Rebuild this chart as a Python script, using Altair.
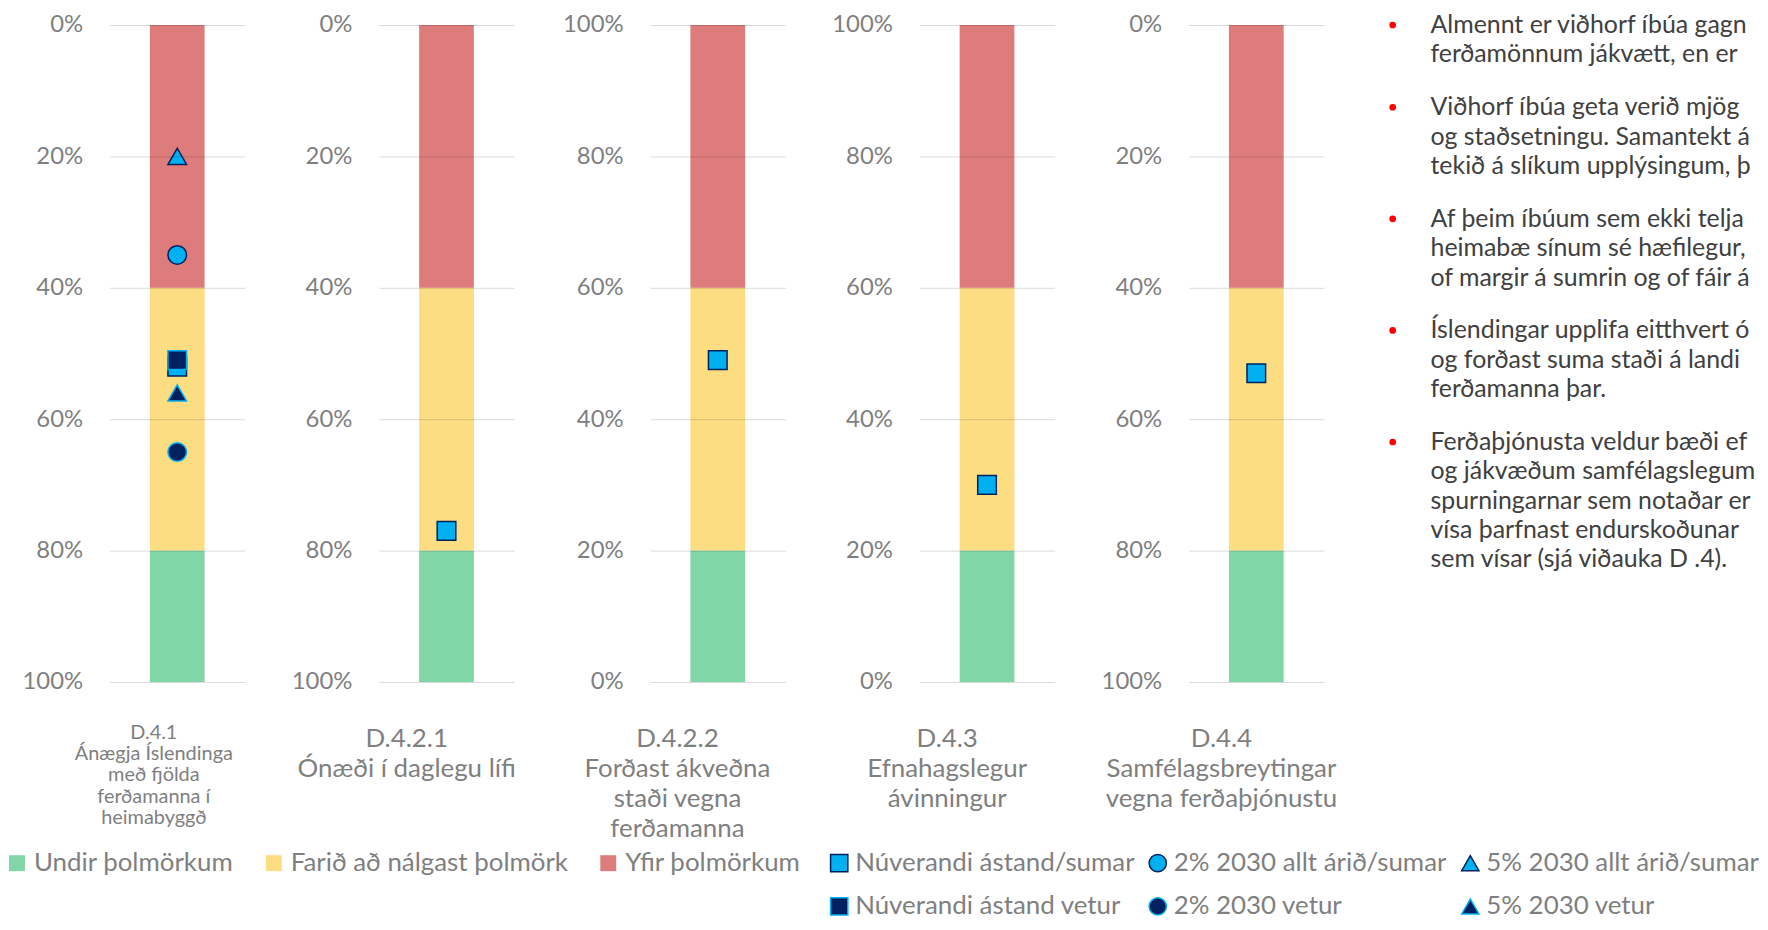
import altair as alt
import pandas as pd

# ---------------- data ----------------
panel_codes = ["D.4.1", "D.4.2.1", "D.4.2.2", "D.4.3", "D.4.4"]
panel_titles = [
    ["D.4.1", "Ánægja Íslendinga", "með fjölda", "ferðamanna í", "heimabyggð"],
    ["D.4.2.1", "Ónæði í daglegu lífi"],
    ["D.4.2.2", "Forðast ákveðna", "staði vegna", "ferðamanna"],
    ["D.4.3", "Efnahagslegur", "ávinningur"],
    ["D.4.4", "Samfélagsbreytingar", "vegna ferðaþjónustu"],
]
zero_at_top = [True, True, False, False, True]

band_names = ["Undir þolmörkum", "Farið að nálgast þolmörk", "Yfir þolmörkum"]
band_colors = ["#80D6A6", "#FCDD82", "#DE7C7C"]
band_lo_top0 = [0.8, 0.4, 0.0]
band_hi_top0 = [1.0, 0.8, 0.4]
band_lo_bot0 = [0.0, 0.2, 0.6]
band_hi_bot0 = [0.2, 0.6, 1.0]

marker_names = ["Núverandi ástand/sumar", "2% 2030 allt árið/sumar", "5% 2030 allt árið/sumar",
                "Núverandi ástand vetur", "2% 2030 vetur", "5% 2030 vetur"]
marker_shapes = ["square", "circle", "triangle-up", "square", "circle", "triangle-up"]
marker_fills = ["#00B0F0", "#00B0F0", "#00B0F0", "#002060", "#002060", "#002060"]
marker_strokes = ["#002060", "#002060", "#002060", "#00B0F0", "#00B0F0", "#00B0F0"]

point_panel = [0, 0, 0, 0, 0, 0, 1, 2, 3, 4]
point_series = ["5% 2030 allt árið/sumar", "2% 2030 allt árið/sumar", "Núverandi ástand/sumar",
                "Núverandi ástand vetur", "5% 2030 vetur", "2% 2030 vetur",
                "Núverandi ástand/sumar", "Núverandi ástand/sumar", "Núverandi ástand/sumar",
                "Núverandi ástand/sumar"]
point_value = [0.20, 0.35, 0.52, 0.51, 0.56, 0.65, 0.77, 0.49, 0.30, 0.53]

bullet_paragraphs = [
    ["Almennt er viðhorf íbúa gagnvart", "ferðamönnum jákvætt, en er það"],
    ["Viðhorf íbúa geta verið mjög breytileg", "og staðsetningu. Samantekt á",
     "tekið á slíkum upplýsingum, þó"],
    ["Af þeim íbúum sem ekki telja á", "heimabæ sínum sé hæfilegur,",
     "of margir á sumrin og of fáir á"],
    ["Íslendingar upplifa eitthvert ónæði", "og forðast suma staði á landinu",
     "ferðamanna þar."],
    ["Ferðaþjónusta veldur bæði efnahagslegum", "og jákvæðum samfélagslegum",
     "spurningarnar sem notaðar eru", "vísa þarfnast endurskoðunar sem",
     "sem vísar (sjá viðauka D .4)."],
]

# ---------------- style ----------------
FONT = "Lato"
GRAY = "#7F7F7F"
title_size = [20, 26, 26, 26, 26]
title_lh = [21.4, 30.4, 30.4, 30.4, 30.4]
title_dx = [-23.5, -40, -40.5, -40, -35]
title_offset = [29, 32, 32, 32, 32]

legend_bands = alt.Legend(
    title=None, orient="none", legendX=-106, legendY=829, direction="horizontal",
    symbolType="square", symbolSize=256, symbolStrokeWidth=0, columnPadding=27,
    labelOffset=4, labelFont=FONT, labelFontSize=26, labelColor=GRAY, labelLimit=0,
)
legend_markers = alt.Legend(
    title=None, orient="none", legendX=720, legendY=829, direction="horizontal",
    columns=3, symbolSize=300, symbolStrokeWidth=1.5, columnPadding=10, rowPadding=17.5,
    labelOffset=3, labelFont=FONT, labelFontSize=26, labelColor=GRAY, labelLimit=0,
)


def panel_chart(i):
    code = panel_codes[i]
    lo = band_lo_top0 if zero_at_top[i] else band_lo_bot0
    hi = band_hi_top0 if zero_at_top[i] else band_hi_bot0
    bands = pd.DataFrame({"panel": code, "band": band_names, "lo": lo, "hi": hi})
    idx = [k for k, p in enumerate(point_panel) if p == i]
    pts = pd.DataFrame({
        "panel": code,
        "series": [point_series[k] for k in idx],
        "value": [point_value[k] for k in idx],
    })
    yscale = alt.Scale(domain=[0, 1], reverse=zero_at_top[i], nice=False, zero=False)
    yaxis = alt.Axis(
        format=".0%", values=[0, 0.2, 0.4, 0.6, 0.8, 1.0], title=None, domain=False,
        ticks=False, labelPadding=27, labelFont=FONT, labelFontSize=24, labelColor=GRAY,
        gridColor="#000000", gridOpacity=0.15, gridWidth=1, zindex=1,
        minExtent=102, maxExtent=102,
    )
    xenc = alt.X("panel:N", axis=None)
    bar = alt.Chart(bands).mark_bar(size=55).encode(
        x=xenc,
        y=alt.Y("lo:Q", scale=yscale, axis=yaxis, title=None),
        y2="hi:Q",
        color=alt.Color("band:N", scale=alt.Scale(domain=band_names, range=band_colors),
                        legend=legend_bands),
    )
    pnt = alt.Chart(pts).mark_point(filled=True, opacity=1, size=350, strokeWidth=1.5).encode(
        x=xenc,
        y=alt.Y("value:Q", scale=yscale, axis=yaxis, title=None),
        shape=alt.Shape("series:N", scale=alt.Scale(domain=marker_names, range=marker_shapes),
                        legend=legend_markers),
        fill=alt.Fill("series:N", scale=alt.Scale(domain=marker_names, range=marker_fills),
                      legend=legend_markers),
        stroke=alt.Stroke("series:N", scale=alt.Scale(domain=marker_names, range=marker_strokes),
                          legend=legend_markers),
    )
    return alt.layer(bar, pnt).properties(
        width=136, height=660,
        title=alt.TitleParams(
            text=panel_titles[i], orient="bottom", anchor="middle", frame="group",
            font=FONT, fontSize=title_size[i], fontWeight="normal", color=GRAY,
            lineHeight=title_lh[i], baseline="top", offset=title_offset[i], dx=title_dx[i],
        ),
    )


panels = alt.hconcat(*[panel_chart(i) for i in range(5)], spacing=32.5)

rows = []
slot = 0.0
for p, lines in enumerate(bullet_paragraphs):
    for j, t in enumerate(lines):
        rows.append({"slot": slot, "text": t, "first": j == 0})
        slot += 1
    slot += 0.8
tdf = pd.DataFrame(rows)
tscale = alt.Scale(domain=[0, 22], range=[0, 649])

text_lines = alt.Chart(tdf).mark_text(
    align="left", baseline="middle", font=FONT, fontSize=25, color="#404040",
    limit=330, ellipsis=" ",
).encode(
    x=alt.value(76),
    y=alt.Y("slot:Q", scale=tscale, axis=None),
    text="text:N",
)
bullets = alt.Chart(tdf[tdf["first"]]).mark_circle(color="#FF0000", size=45, opacity=1).encode(
    x=alt.value(38),
    y=alt.Y("slot:Q", scale=tscale, axis=None),
)
text_view = alt.layer(text_lines, bullets).properties(width=390, height=660)

chart = alt.hconcat(panels, text_view, spacing=17).properties(
    padding={"left": -4, "top": 3, "right": 0, "bottom": 0}
).configure_view(stroke=None)

chart.save("out.html", embed_options={"renderer": "svg", "actions": False})
